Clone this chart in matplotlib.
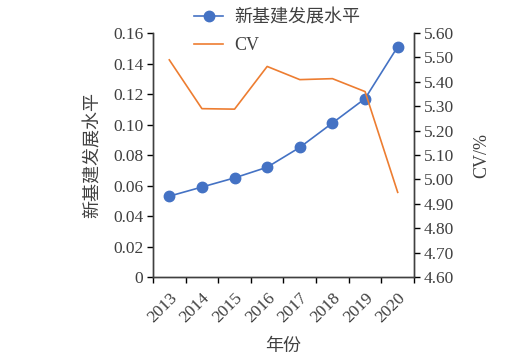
import matplotlib.pyplot as plt
import numpy as np
from matplotlib.ticker import FuncFormatter, FixedLocator

plt.rcParams['font.family'] = ['Liberation Serif', 'Noto Sans CJK SC']
plt.rcParams['axes.unicode_minus'] = False

years = ['2013', '2014', '2015', '2016', '2017', '2018', '2019', '2020']
level = [0.053, 0.059, 0.065, 0.072, 0.085, 0.101, 0.117, 0.151]
cv = [5.49, 5.29, 5.288, 5.463, 5.409, 5.413, 5.36, 4.947]

blue = '#4472C4'
orange = '#ED7D31'
x = np.arange(len(years))

fig = plt.figure(figsize=(5.23, 3.59), dpi=100)
ax = fig.add_axes([0.2925, 0.2284, 0.4991, 0.6796])
ax2 = ax.twinx()

l1, = ax.plot(x, level, color=blue, lw=1.2, marker='o', ms=7.5, label='新基建发展水平')
l2, = ax2.plot(x, cv, color=orange, lw=1.2, label='CV')

ax.set_xlim(-0.5, len(years) - 0.5)
ax.set_ylim(0, 0.16)
ax.set_yticks(np.arange(0, 0.161, 0.02))
ax.yaxis.set_major_formatter(FuncFormatter(lambda v, p: '0' if abs(v) < 1e-9 else f'{v:.2f}'))
ax2.set_ylim(4.6, 5.6)
ax2.set_yticks(np.arange(4.6, 5.601, 0.1))
ax2.yaxis.set_major_formatter(FuncFormatter(lambda v, p: f'{v:.2f}'))

# category axis: ticks on the boundaries, labels at the centres
ax.xaxis.set_major_locator(FixedLocator(np.arange(-0.5, len(years), 1)))
ax.set_xticklabels([])
ax.xaxis.set_minor_locator(FixedLocator(x))
ax.set_xticklabels(years, minor=True, rotation=45, ha='right', rotation_mode='anchor')
ax.tick_params(axis='x', which='minor', length=0, pad=9, labelsize=12.5)
ax.tick_params(axis='x', which='major', length=4, direction='out', width=1)
ax.tick_params(axis='y', length=4, direction='out', width=1, labelsize=12.5, pad=3)
ax2.tick_params(axis='y', length=4, direction='out', width=1, labelsize=12.5, pad=3)

for a in (ax, ax2):
    a.spines['top'].set_visible(False)
    for s in ('left', 'right', 'bottom'):
        a.spines[s].set_color('#404040')
        a.spines[s].set_linewidth(1)

ax.set_ylabel('新基建发展水平', fontsize=13, color='#404040', labelpad=8)
ax2.set_ylabel('CV/%', fontsize=13, color='#404040', labelpad=14)
ax.set_xlabel('年份', fontsize=13, color='#404040', labelpad=9)
for lab in ax.get_yticklabels() + ax2.get_yticklabels() + ax.get_xticklabels(minor=True):
    lab.set_color('#404040')

fig.legend(handles=[l1, l2], loc='upper left', bbox_to_anchor=(0.34, 1.02),
           frameon=False, fontsize=13, handlelength=1.6, labelspacing=0.6,
           handletextpad=0.6, labelcolor='#404040')

fig.savefig('out.png', dpi=100)
